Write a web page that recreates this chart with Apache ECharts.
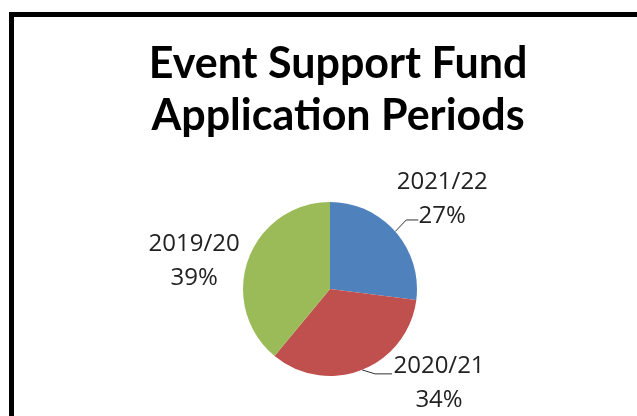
<!DOCTYPE html>
<html>
<head>
<meta charset="utf-8">
<script src="https://cdn.jsdelivr.net/npm/echarts@6/dist/echarts.min.js"></script>
<style>
    html, body { margin: 0; padding: 0; background: #fff; }
    #chart { width: 637px; height: 416px; }
</style>
</head>
<body>
<div id="chart"></div>
<script>
var periods = ['2021/22', '2020/21', '2019/20']
var shares = [27, 34, 39]
var colors = ['#4F81BD', '#C0504D', '#9BBB59']

// label placement, as offsets from the slice edge point that ECharts gives
var labelShift = [
    { dx: 47, dy: -32, bend: [11, -11.5], tip: [23, -11.5], line: true },
    { dx: 77, dy: 13, bend: [13, 4], tip: [30, 4], line: true },
    { dx: -54, dy: 2, bend: [0, 0], tip: [0, 0], line: false }
]

window.onload = function () {
    var chart = echarts.init(document.getElementById('chart'), null, { renderer: 'canvas' })

    var data = periods.map(function (p, i) {
        return {
            name: p,
            value: shares[i],
            itemStyle: { color: colors[i] },
            labelLine: { lineStyle: { opacity: labelShift[i].line ? 1 : 0 } }
        }
    })

    var option = {
        backgroundColor: '#fff',
        animation: false,
        title: {
            text: 'Event Support Fund\nApplication Periods',
            left: 333,
            top: 33,
            textAlign: 'center',
            textStyle: {
                fontFamily: 'Lato',
                fontWeight: 'bold',
                fontSize: 43,
                lineHeight: 52,
                color: '#000'
            }
        },
        graphic: [{
            type: 'rect',
            shape: { x: 11.5, y: 14.5, width: 700, height: 500 },
            style: { fill: null, stroke: '#000', lineWidth: 5 },
            silent: true
        }],
        series: [{
            type: 'pie',
            center: [330, 289],
            radius: 87,
            startAngle: 90,
            clockwise: true,
            data: data,
            label: {
                show: true,
                position: 'outside',
                fontFamily: 'Open Sans',
                fontSize: 24,
                lineHeight: 34,
                color: '#222',
                formatter: function (p) {
                    return p.name + '\n' + p.value + '%'
                }
            },
            labelLine: {
                show: true,
                length: 12,
                length2: 8,
                lineStyle: { color: '#333', width: 1 }
            },
            labelLayout: function (params) {
                var s = labelShift[params.dataIndex]
                var start = params.labelLinePoints[0]
                return {
                    x: start[0] + s.dx,
                    y: start[1] + s.dy,
                    align: 'center',
                    verticalAlign: 'middle',
                    labelLinePoints: [
                        [start[0], start[1]],
                        [start[0] + s.bend[0], start[1] + s.bend[1]],
                        [start[0] + s.tip[0], start[1] + s.tip[1]]
                    ]
                }
            },
            emphasis: { disabled: true }
        }]
    }
    chart.setOption(option)
}
</script>
</body>
</html>
